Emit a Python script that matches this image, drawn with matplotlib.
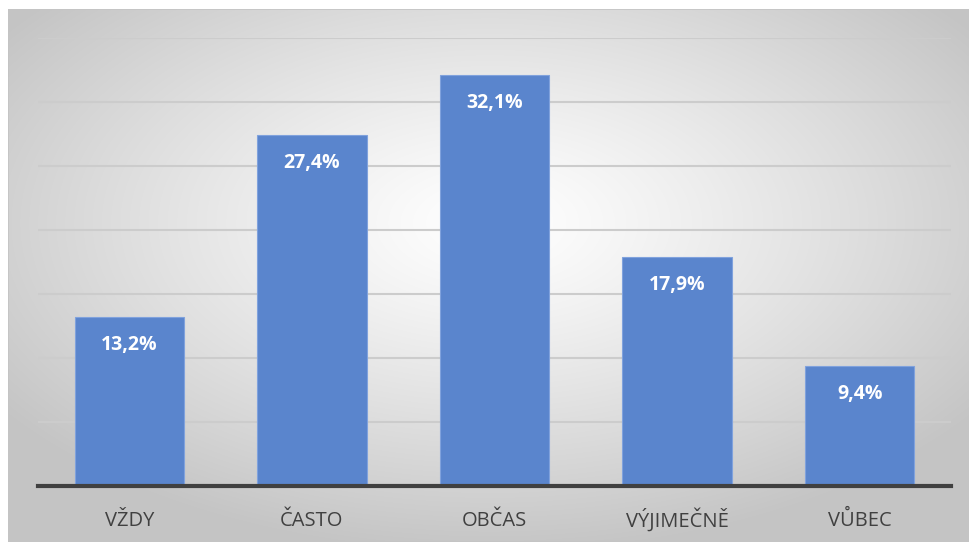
import numpy as np
import matplotlib.pyplot as plt
from matplotlib.patches import Rectangle

categories = ["VŽDY", "ČASTO", "OBČAS", "VÝJIMEČNĚ", "VŮBEC"]
values = [13.2, 27.4, 32.1, 17.9, 9.4]
labels = ["13,2%", "27,4%", "32,1%", "17,9%", "9,4%"]

W, H = 970, 543
fig = plt.figure(figsize=(W / 100, H / 100), dpi=100)
fig.patch.set_facecolor("white")

# radial gradient background of the chart box
bg = fig.add_axes([8 / W, 1 / H, (W - 8) / W, (H - 10) / H])
yy, xx = np.mgrid[0:300, 0:560]
cx, cy = 280, 120
r = np.sqrt(((xx - cx) / 560) ** 2 + ((yy - cy) / 300) ** 2)
r = np.clip(r / 0.62, 0, 1)
shade = 1.0 - 0.23 * r ** 1.2
img = np.dstack([shade, shade, shade])
bg.imshow(img, aspect="auto", extent=[0, 1, 0, 1], interpolation="bilinear")
bg.set_axis_off()
bg.add_patch(Rectangle((0, 0), 1, 1, transform=bg.transAxes, fill=False,
                       edgecolor="#c4c4c4", linewidth=1.2))

ax = fig.add_axes([38 / W, (H - 486) / H, (951 - 38) / W, (486 - 38) / H])
ax.patch.set_alpha(0)
x = np.arange(len(categories))
bars = ax.bar(x, values, width=0.6, color="#5a85cd", edgecolor="#80a2dd",
              linewidth=0.8, zorder=3)
ax.set_ylim(0, 35)
ax.set_xlim(-0.5, len(categories) - 0.5)
ax.set_yticks(np.arange(5, 36, 5))
ax.yaxis.grid(True, color="#cccccc", linewidth=1.5, zorder=0)
ax.tick_params(axis="y", length=0, labelleft=False)
ax.tick_params(axis="x", length=0, pad=29)
ax.set_xticks(x)
ax.set_xticklabels(categories, fontsize=14.5, color="#404040", family="Open Sans",
                   va="baseline")
for s in ["top", "right", "left"]:
    ax.spines[s].set_visible(False)
ax.spines["bottom"].set_color("#404040")
ax.spines["bottom"].set_linewidth(3)
ax.spines["bottom"].set_zorder(4)

for xi, v, lab in zip(x, values, labels):
    ax.annotate(lab, (xi, v), xytext=(0, -28), textcoords="offset pixels",
                ha="center", va="center", color="white", fontsize=14,
                fontweight="bold", family="Open Sans", zorder=5)

fig.savefig("out.png", dpi=100)
